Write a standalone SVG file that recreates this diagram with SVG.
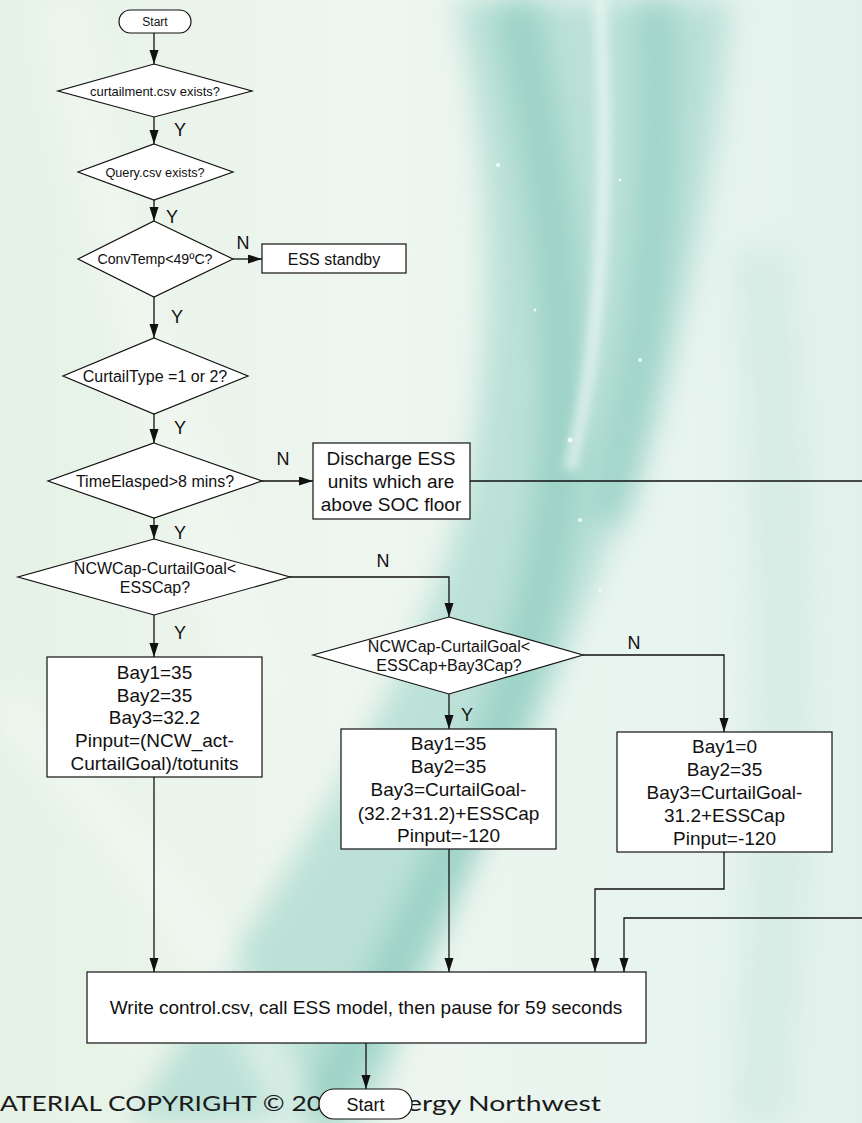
<svg xmlns="http://www.w3.org/2000/svg" width="862" height="1123" viewBox="0 0 862 1123">
<defs>
<style>
.t{font-family:"Liberation Sans",Arial,sans-serif;fill:#111;text-anchor:middle}
.yn{font-family:"Liberation Sans",Arial,sans-serif;fill:#111;font-size:18px;text-anchor:middle}
.shape{fill:#fff;stroke:#111;stroke-width:1.2}
.c{fill:none;stroke:#111;stroke-width:1.3}
.ca{fill:none;stroke:#111;stroke-width:1.3;marker-end:url(#ah)}
.copy{font-family:Lato,"Open Sans",sans-serif;fill:#1a1a1a;font-size:21px}
</style>
<marker id="ah" markerUnits="userSpaceOnUse" markerWidth="15" markerHeight="10" refX="14" refY="4.5" orient="auto">
<path d="M0,0 L14,4.5 L0,9 Z" fill="#111"/>
</marker>
<linearGradient id="bg" x1="0" y1="0" x2="1" y2="0">
<stop offset="0" stop-color="#e6f2e6"/>
<stop offset="0.4" stop-color="#eef6ef"/>
<stop offset="0.75" stop-color="#e8f4ef"/>
<stop offset="1" stop-color="#e3f1ec"/>
</linearGradient>
<filter id="blur" filterUnits="userSpaceOnUse" x="-200" y="-200" width="1262" height="1523"><feGaussianBlur stdDeviation="14"/></filter>
<filter id="blur2" filterUnits="userSpaceOnUse" x="-200" y="-200" width="1262" height="1523"><feGaussianBlur stdDeviation="5"/></filter>
</defs>

<g id="background">
<rect width="862" height="1123" fill="url(#bg)"/>
<path d="M455 0 L730 0 C715 200 670 400 615 530 C545 720 445 900 370 1123 L130 1123 C260 900 420 700 468 480 C498 300 488 150 455 0 Z" fill="#a3d7cc" opacity="0.65" filter="url(#blur)"/>
<path d="M515 0 C565 250 585 450 525 650 C475 820 390 980 310 1123" fill="none" stroke="#80c4b5" stroke-width="45" opacity="0.5" filter="url(#blur)"/>
<path d="M655 0 C665 200 645 380 605 520" fill="none" stroke="#86c8ba" stroke-width="40" opacity="0.5" filter="url(#blur)"/>
<path d="M600 0 C610 200 600 350 570 470" fill="none" stroke="#f4fbf8" stroke-width="14" opacity="0.6" filter="url(#blur2)"/>
<path d="M760 250 C790 500 790 800 760 1123" fill="none" stroke="#cfe9e1" stroke-width="60" opacity="0.6" filter="url(#blur)"/>
<path d="M0 700 C150 850 250 1000 300 1123" fill="none" stroke="#f6fbf6" stroke-width="40" opacity="0.5" filter="url(#blur)"/>
<path d="M60 0 C120 300 200 500 260 700" fill="none" stroke="#f5faf5" stroke-width="50" opacity="0.45" filter="url(#blur)"/>
<g fill="#ffffff" opacity="0.8">
<circle cx="498" cy="165" r="2"/><circle cx="570" cy="440" r="2.5"/><circle cx="535" cy="310" r="1.5"/><circle cx="580" cy="520" r="2"/><circle cx="620" cy="180" r="1.5"/><circle cx="640" cy="360" r="2"/><circle cx="600" cy="590" r="1.5"/>
</g>
</g>

<g id="connectors">
<path class="ca" d="M154 33 V64"/>
<path class="ca" d="M154 117 V144"/>
<path class="ca" d="M154 200 V221"/>
<path class="ca" d="M233 259 H262"/>
<path class="ca" d="M154 297 V338"/>
<path class="ca" d="M154 414 V443"/>
<path class="ca" d="M262 481 H313"/>
<path class="ca" d="M154 518 V539"/>
<path class="ca" d="M290 577 H449 V617"/>
<path class="ca" d="M154 615 V657"/>
<path class="ca" d="M583 655 H724 V732"/>
<path class="ca" d="M449 694 V729"/>
<path class="ca" d="M154 777 V972"/>
<path class="ca" d="M449 849 V972"/>
<path class="ca" d="M724 852 V889 H595 V972"/>
<path class="ca" d="M470 481 H875 V918 H624 V972" stroke="#333"/>
<path class="ca" d="M366 1043 V1089"/>
</g>

<g id="labels">
<text class="yn" x="180" y="136">Y</text>
<text class="yn" x="172" y="223">Y</text>
<text class="yn" x="243" y="249">N</text>
<text class="yn" x="177" y="323">Y</text>
<text class="yn" x="180" y="434">Y</text>
<text class="yn" x="283" y="465">N</text>
<text class="yn" x="180" y="539">Y</text>
<text class="yn" x="383" y="567">N</text>
<text class="yn" x="180" y="639">Y</text>
<text class="yn" x="634" y="649">N</text>
<text class="yn" x="467" y="721">Y</text>
</g>

<g id="copyright">
<text class="copy" x="0" y="1111" textLength="322" lengthAdjust="spacingAndGlyphs">ATERIAL COPYRIGHT © 20</text>
<text class="copy" x="407" y="1111" textLength="194" lengthAdjust="spacingAndGlyphs">ergy Northwest</text>
</g>

<g id="start">
<rect class="shape" x="119" y="10" width="72" height="23" rx="11.5"/>
<text class="t" x="155" y="25.5" font-size="12">Start</text>
</g>

<g id="d1">
<polygon class="shape" points="154,64 252,91 154,117 58,91"/>
<text class="t" x="155" y="95.5" font-size="13" textLength="130" lengthAdjust="spacingAndGlyphs">curtailment.csv exists?</text>
</g>

<g id="d2">
<polygon class="shape" points="154,144 233,172 154,200 78,172"/>
<text class="t" x="155" y="176.5" font-size="12.7">Query.csv exists?</text>
</g>

<g id="d3">
<polygon class="shape" points="154,221 233,259 154,297 78,259"/>
<text class="t" x="155" y="264" font-size="14" textLength="115" lengthAdjust="spacingAndGlyphs">ConvTemp&lt;49ºC?</text>
</g>

<g id="ess-standby">
<rect class="shape" x="262" y="244" width="144" height="29"/>
<text class="t" x="334" y="264.5" font-size="16">ESS standby</text>
</g>

<g id="d4">
<polygon class="shape" points="154,338 248,376 154,414 63,376"/>
<text class="t" x="155" y="381.5" font-size="16">CurtailType =1 or 2?</text>
</g>

<g id="d5">
<polygon class="shape" points="154,443 262,481 154,518 48,481"/>
<text class="t" x="155" y="486.5" font-size="16">TimeElasped&gt;8 mins?</text>
</g>

<g id="discharge">
<rect class="shape" x="313" y="443" width="157" height="76"/>
<text class="t" x="391" y="464.5" font-size="19">Discharge ESS</text>
<text class="t" x="391" y="487.5" font-size="19">units which are</text>
<text class="t" x="391" y="510.5" font-size="19">above SOC floor</text>
</g>

<g id="d6">
<polygon class="shape" points="154,539 290,577 154,615 18,577"/>
<text class="t" x="155" y="574" font-size="16">NCWCap-CurtailGoal&lt;</text>
<text class="t" x="155" y="593" font-size="16">ESSCap?</text>
</g>

<g id="d7">
<polygon class="shape" points="449,617 583,655 449,694 313,655"/>
<text class="t" x="449" y="651.6" font-size="16">NCWCap-CurtailGoal&lt;</text>
<text class="t" x="449" y="670.6" font-size="16">ESSCap+Bay3Cap?</text>
</g>

<g id="box1">
<rect class="shape" x="47" y="657" width="215" height="120"/>
<text class="t" x="154.5" y="678.7" font-size="19">Bay1=35</text>
<text class="t" x="154.5" y="701.5" font-size="19">Bay2=35</text>
<text class="t" x="154.5" y="724.2" font-size="19">Bay3=32.2</text>
<text class="t" x="154.5" y="747" font-size="19">Pinput=(NCW_act-</text>
<text class="t" x="154.5" y="769.7" font-size="19">CurtailGoal)/totunits</text>
</g>

<g id="box2">
<rect class="shape" x="341" y="729" width="215" height="120"/>
<text class="t" x="448.5" y="750" font-size="19">Bay1=35</text>
<text class="t" x="448.5" y="773" font-size="19">Bay2=35</text>
<text class="t" x="448.5" y="796" font-size="19">Bay3=CurtailGoal-</text>
<text class="t" x="448.5" y="819.5" font-size="19">(32.2+31.2)+ESSCap</text>
<text class="t" x="448.5" y="842" font-size="19">Pinput=-120</text>
</g>

<g id="box3">
<rect class="shape" x="617" y="732" width="215" height="120"/>
<text class="t" x="724.5" y="753" font-size="19">Bay1=0</text>
<text class="t" x="724.5" y="776" font-size="19">Bay2=35</text>
<text class="t" x="724.5" y="799" font-size="19">Bay3=CurtailGoal-</text>
<text class="t" x="724.5" y="822" font-size="19">31.2+ESSCap</text>
<text class="t" x="724.5" y="845" font-size="19">Pinput=-120</text>
</g>

<g id="write">
<rect class="shape" x="87" y="972" width="559" height="71"/>
<text class="t" x="366" y="1013.7" font-size="19">Write control.csv, call ESS model, then pause for 59 seconds</text>
</g>

<g id="start2">
<rect class="shape" x="319" y="1089" width="93" height="30" rx="15"/>
<text class="t" x="365.5" y="1110.5" font-size="18">Start</text>
</g>
</svg>
